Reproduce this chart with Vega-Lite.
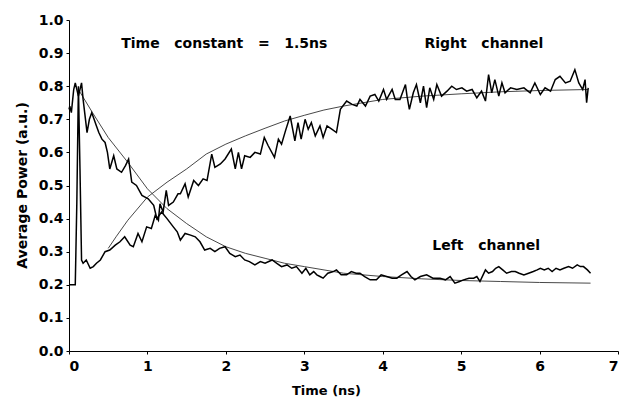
{
  "$schema": "https://vega.github.io/schema/vega-lite/v6.json",
  "width": 549,
  "height": 331,
  "autosize": {"type": "none"},
  "padding": {"left": 69, "top": 20, "right": 5, "bottom": 54},
  "background": "white",
  "config": {"view": {"stroke": null}, "font": "DejaVu Sans"},
  "datasets": {
    "left": [
      {"t":0.0,"p":0.73},{"t":0.01,"p":0.74},{"t":0.03,"p":0.72},{"t":0.06,"p":0.79},{"t":0.08,"p":0.81},{"t":0.12,"p":0.77},{"t":0.16,"p":0.81},{"t":0.18,"p":0.76},{"t":0.2,"p":0.72},{"t":0.23,"p":0.66},{"t":0.26,"p":0.7},{"t":0.29,"p":0.72},{"t":0.32,"p":0.7},{"t":0.35,"p":0.68},{"t":0.38,"p":0.66},{"t":0.42,"p":0.64},{"t":0.46,"p":0.63},{"t":0.49,"p":0.6},{"t":0.52,"p":0.55},{"t":0.57,"p":0.59},{"t":0.61,"p":0.55},{"t":0.67,"p":0.54},{"t":0.72,"p":0.56},{"t":0.76,"p":0.58},{"t":0.8,"p":0.51},{"t":0.86,"p":0.5},{"t":0.93,"p":0.47},{"t":1.01,"p":0.46},{"t":1.08,"p":0.44},{"t":1.12,"p":0.4},{"t":1.18,"p":0.42},{"t":1.25,"p":0.4},{"t":1.33,"p":0.375},{"t":1.38,"p":0.36},{"t":1.42,"p":0.335},{"t":1.48,"p":0.355},{"t":1.55,"p":0.35},{"t":1.61,"p":0.345},{"t":1.67,"p":0.33},{"t":1.73,"p":0.305},{"t":1.8,"p":0.31},{"t":1.86,"p":0.3},{"t":1.92,"p":0.31},{"t":1.99,"p":0.315},{"t":2.05,"p":0.295},{"t":2.12,"p":0.285},{"t":2.18,"p":0.29},{"t":2.24,"p":0.275},{"t":2.3,"p":0.27},{"t":2.37,"p":0.26},{"t":2.44,"p":0.27},{"t":2.5,"p":0.265},{"t":2.59,"p":0.275},{"t":2.65,"p":0.265},{"t":2.71,"p":0.255},{"t":2.78,"p":0.26},{"t":2.84,"p":0.25},{"t":2.9,"p":0.255},{"t":2.97,"p":0.235},{"t":3.02,"p":0.25},{"t":3.07,"p":0.23},{"t":3.12,"p":0.24},{"t":3.16,"p":0.23},{"t":3.2,"p":0.225},{"t":3.24,"p":0.22},{"t":3.3,"p":0.235},{"t":3.37,"p":0.24},{"t":3.41,"p":0.245},{"t":3.47,"p":0.23},{"t":3.54,"p":0.23},{"t":3.6,"p":0.24},{"t":3.66,"p":0.235},{"t":3.71,"p":0.235},{"t":3.77,"p":0.225},{"t":3.84,"p":0.215},{"t":3.92,"p":0.215},{"t":3.98,"p":0.23},{"t":4.05,"p":0.225},{"t":4.12,"p":0.22},{"t":4.18,"p":0.22},{"t":4.24,"p":0.23},{"t":4.31,"p":0.24},{"t":4.36,"p":0.225},{"t":4.41,"p":0.215},{"t":4.48,"p":0.225},{"t":4.56,"p":0.23},{"t":4.64,"p":0.22},{"t":4.73,"p":0.22},{"t":4.8,"p":0.215},{"t":4.86,"p":0.225},{"t":4.92,"p":0.205},{"t":4.98,"p":0.21},{"t":5.03,"p":0.215},{"t":5.1,"p":0.22},{"t":5.16,"p":0.22},{"t":5.2,"p":0.225},{"t":5.24,"p":0.21},{"t":5.28,"p":0.23},{"t":5.31,"p":0.245},{"t":5.35,"p":0.235},{"t":5.4,"p":0.24},{"t":5.44,"p":0.25},{"t":5.48,"p":0.255},{"t":5.53,"p":0.245},{"t":5.58,"p":0.235},{"t":5.64,"p":0.24},{"t":5.69,"p":0.24},{"t":5.74,"p":0.235},{"t":5.8,"p":0.23},{"t":5.86,"p":0.235},{"t":5.92,"p":0.24},{"t":5.97,"p":0.245},{"t":6.01,"p":0.25},{"t":6.06,"p":0.245},{"t":6.11,"p":0.25},{"t":6.16,"p":0.24},{"t":6.21,"p":0.25},{"t":6.26,"p":0.245},{"t":6.31,"p":0.25},{"t":6.37,"p":0.255},{"t":6.42,"p":0.25},{"t":6.48,"p":0.26},{"t":6.52,"p":0.255},{"t":6.56,"p":0.255},{"t":6.61,"p":0.245},{"t":6.65,"p":0.235}
    ],
    "right": [
      {"t":0.0,"p":0.2},{"t":0.03,"p":0.2},{"t":0.08,"p":0.2},{"t":0.1,"p":0.45},{"t":0.12,"p":0.8},{"t":0.14,"p":0.55},{"t":0.16,"p":0.275},{"t":0.18,"p":0.265},{"t":0.22,"p":0.275},{"t":0.27,"p":0.25},{"t":0.31,"p":0.255},{"t":0.35,"p":0.265},{"t":0.4,"p":0.275},{"t":0.46,"p":0.3},{"t":0.52,"p":0.305},{"t":0.59,"p":0.32},{"t":0.65,"p":0.33},{"t":0.71,"p":0.345},{"t":0.78,"p":0.32},{"t":0.82,"p":0.315},{"t":0.88,"p":0.355},{"t":0.93,"p":0.33},{"t":0.99,"p":0.375},{"t":1.05,"p":0.37},{"t":1.1,"p":0.41},{"t":1.14,"p":0.395},{"t":1.16,"p":0.445},{"t":1.2,"p":0.42},{"t":1.24,"p":0.485},{"t":1.27,"p":0.44},{"t":1.33,"p":0.45},{"t":1.39,"p":0.475},{"t":1.42,"p":0.475},{"t":1.48,"p":0.505},{"t":1.52,"p":0.465},{"t":1.59,"p":0.515},{"t":1.65,"p":0.5},{"t":1.71,"p":0.52},{"t":1.76,"p":0.515},{"t":1.82,"p":0.595},{"t":1.86,"p":0.555},{"t":1.93,"p":0.565},{"t":1.99,"p":0.58},{"t":2.07,"p":0.61},{"t":2.12,"p":0.55},{"t":2.16,"p":0.6},{"t":2.2,"p":0.55},{"t":2.24,"p":0.59},{"t":2.31,"p":0.585},{"t":2.37,"p":0.6},{"t":2.44,"p":0.595},{"t":2.49,"p":0.645},{"t":2.54,"p":0.62},{"t":2.62,"p":0.585},{"t":2.67,"p":0.64},{"t":2.71,"p":0.625},{"t":2.76,"p":0.665},{"t":2.82,"p":0.71},{"t":2.88,"p":0.635},{"t":2.92,"p":0.69},{"t":2.96,"p":0.64},{"t":3.01,"p":0.7},{"t":3.05,"p":0.67},{"t":3.09,"p":0.69},{"t":3.14,"p":0.65},{"t":3.2,"p":0.68},{"t":3.24,"p":0.645},{"t":3.29,"p":0.68},{"t":3.35,"p":0.67},{"t":3.41,"p":0.66},{"t":3.46,"p":0.73},{"t":3.54,"p":0.755},{"t":3.61,"p":0.745},{"t":3.67,"p":0.74},{"t":3.71,"p":0.76},{"t":3.78,"p":0.74},{"t":3.84,"p":0.77},{"t":3.9,"p":0.775},{"t":3.95,"p":0.755},{"t":4.01,"p":0.79},{"t":4.05,"p":0.76},{"t":4.12,"p":0.79},{"t":4.16,"p":0.76},{"t":4.22,"p":0.76},{"t":4.29,"p":0.805},{"t":4.31,"p":0.77},{"t":4.34,"p":0.73},{"t":4.39,"p":0.78},{"t":4.43,"p":0.805},{"t":4.48,"p":0.75},{"t":4.52,"p":0.8},{"t":4.56,"p":0.735},{"t":4.6,"p":0.795},{"t":4.65,"p":0.76},{"t":4.69,"p":0.805},{"t":4.75,"p":0.77},{"t":4.82,"p":0.785},{"t":4.88,"p":0.8},{"t":4.94,"p":0.79},{"t":5.01,"p":0.795},{"t":5.07,"p":0.785},{"t":5.14,"p":0.79},{"t":5.2,"p":0.765},{"t":5.26,"p":0.785},{"t":5.31,"p":0.755},{"t":5.35,"p":0.835},{"t":5.39,"p":0.78},{"t":5.43,"p":0.82},{"t":5.48,"p":0.77},{"t":5.52,"p":0.81},{"t":5.56,"p":0.78},{"t":5.63,"p":0.795},{"t":5.71,"p":0.79},{"t":5.8,"p":0.795},{"t":5.88,"p":0.78},{"t":5.94,"p":0.81},{"t":6.01,"p":0.775},{"t":6.07,"p":0.795},{"t":6.14,"p":0.785},{"t":6.2,"p":0.82},{"t":6.26,"p":0.83},{"t":6.33,"p":0.81},{"t":6.39,"p":0.815},{"t":6.45,"p":0.85},{"t":6.5,"p":0.81},{"t":6.55,"p":0.79},{"t":6.58,"p":0.82},{"t":6.6,"p":0.75},{"t":6.62,"p":0.795}
    ],
    "fits": [
      {"s":"L","t":0.12,"p":0.79},{"s":"L","t":0.3,"p":0.72},{"s":"L","t":0.5,"p":0.645},{"s":"L","t":0.75,"p":0.57},{"s":"L","t":1.0,"p":0.49},{"s":"L","t":1.25,"p":0.43},{"s":"L","t":1.5,"p":0.385},{"s":"L","t":1.75,"p":0.345},{"s":"L","t":2.0,"p":0.315},{"s":"L","t":2.25,"p":0.295},{"s":"L","t":2.5,"p":0.28},{"s":"L","t":2.75,"p":0.265},{"s":"L","t":3.0,"p":0.255},{"s":"L","t":3.5,"p":0.235},{"s":"L","t":4.0,"p":0.225},{"s":"L","t":4.5,"p":0.218},{"s":"L","t":5.0,"p":0.213},{"s":"L","t":5.5,"p":0.21},{"s":"L","t":6.0,"p":0.207},{"s":"L","t":6.65,"p":0.205},
      {"s":"R","t":0.5,"p":0.31},{"s":"R","t":0.6,"p":0.345},{"s":"R","t":0.75,"p":0.395},{"s":"R","t":1.0,"p":0.465},{"s":"R","t":1.25,"p":0.51},{"s":"R","t":1.5,"p":0.55},{"s":"R","t":1.75,"p":0.595},{"s":"R","t":2.0,"p":0.625},{"s":"R","t":2.25,"p":0.65},{"s":"R","t":2.5,"p":0.673},{"s":"R","t":2.75,"p":0.695},{"s":"R","t":3.0,"p":0.712},{"s":"R","t":3.25,"p":0.728},{"s":"R","t":3.5,"p":0.74},{"s":"R","t":4.0,"p":0.76},{"s":"R","t":4.5,"p":0.77},{"s":"R","t":5.0,"p":0.777},{"s":"R","t":5.5,"p":0.783},{"s":"R","t":6.0,"p":0.787},{"s":"R","t":6.62,"p":0.79}
    ],
    "labels": [
      {"t":1.98,"p":0.928,"txt":"Time\u00a0\u00a0 constant\u00a0\u00a0 =\u00a0\u00a0 1.5ns"},
      {"t":5.29,"p":0.926,"txt":"Right\u00a0\u00a0 channel"},
      {"t":5.32,"p":0.316,"txt":"Left\u00a0\u00a0 channel"}
    ]
  },
  "encoding": {
    "x": {"field": "t", "type": "quantitative", "scale": {"domain": [0, 7], "nice": false},
      "axis": {"values": [0,1,2,3,4,5,6,7], "format": "d", "grid": false, "labelOverlap": false, "domainColor": "black", "domainWidth": 1.2, "tickColor": "black", "tickSize": 3,
        "labelFont": "DejaVu Sans", "labelFontWeight": "bold", "labelFontSize": 14, "labelColor": "black", "labelPadding": 5,
        "title": "Time  (ns)", "titleFont": "DejaVu Sans", "titleFontWeight": "bold", "titleFontSize": 13, "titleColor": "black",
        "titleX": 257, "titleY": 39, "titleBaseline": "middle", "titleAlign": "center"}},
    "y": {"field": "p", "type": "quantitative", "scale": {"domain": [0, 1], "nice": false},
      "axis": {"values": [0,0.1,0.2,0.3,0.4,0.5,0.6,0.7,0.8,0.9,1.0], "tickCount": 11, "format": ".1f", "grid": false, "labelOverlap": false, "labelSeparation": 0, "domainColor": "black", "domainWidth": 1, "tickColor": "black", "tickSize": 3,
        "labelFont": "DejaVu Sans", "labelFontWeight": "bold", "labelFontSize": 14, "labelColor": "black", "labelPadding": 3,
        "title": "Average Power (a.u.)", "titleFont": "DejaVu Sans", "titleFontWeight": "bold", "titleFontSize": 14, "titleColor": "black",
        "titleX": -47, "titleY": 165, "titleAngle": -90, "titleBaseline": "middle", "titleAlign": "center"}}
  },
  "layer": [
    {
      "data": {"name": "fits"},
      "mark": {"type": "line", "stroke": "#333333", "strokeWidth": 0.9},
      "encoding": {
        "detail": {"field": "s", "type": "nominal"}
      }
    },
    {
      "data": {"name": "left"},
      "mark": {"type": "line", "stroke": "black", "strokeWidth": 1.5},
      "encoding": {}
    },
    {
      "data": {"name": "right"},
      "mark": {"type": "line", "stroke": "black", "strokeWidth": 1.5},
      "encoding": {}
    },
    {
      "data": {"name": "labels"},
      "mark": {"type": "text", "font": "DejaVu Sans", "fontWeight": "bold", "fontSize": 14, "color": "black", "align": "center", "baseline": "middle"},
      "encoding": {
        "text": {"field": "txt"}
      }
    }
  ]
}
